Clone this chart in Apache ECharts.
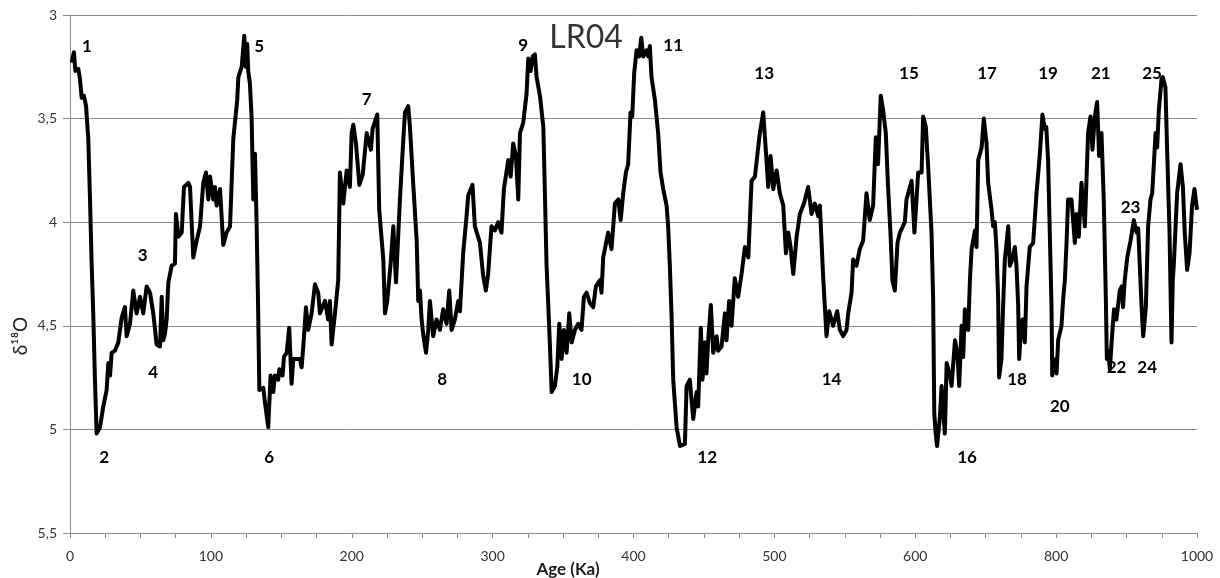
<!DOCTYPE html>
<html>
<head>
<meta charset="utf-8">
<script src="https://cdn.jsdelivr.net/npm/echarts@6/dist/echarts.min.js"></script>
<style>html,body{margin:0;padding:0;background:#fff}#main{width:1220px;height:578px}</style>
</head>
<body>
<div id="main"></div>
<script>
// LR04 benthic d18O stack (age in ka)
const ages = [1.2,2.8,3.8,5.9,7.1,8.3,9.9,11.4,13,14.2,15.4,16.5,17.7,18.9,21.3,23.6,26,27.2,28.4,29.6,31.9,34.3,36.7,39,40.2,42.6,44.9,47.3,49.7,52,54.4,56.8,59.1,61.5,63.9,65.1,66.2,67.4,68.6,69.8,72.2,74.5,75.2,76.9,79.3,80.9,84,85.2,87.5,89.9,92.3,94.6,96.5,98.2,99.4,101.7,102.9,104.1,106.5,108.8,111.2,113.6,115.9,118.7,119.5,121.9,123.7,124.9,125.8,126.5,127.7,128.9,130.1,131.3,132.5,133.5,134.4,137.2,138.4,140.7,142.4,144.3,145.5,147.8,148.6,150.9,151.9,153.8,155.6,157.3,158.5,160.9,163.2,164.4,165.6,167.5,169.1,171.5,173.9,176.2,177.4,181,183.3,184.5,185.7,188.1,190.4,191.6,194,196.4,198.7,199.9,201.1,203,205.4,207.8,210.6,213.6,214.8,218.1,219.5,222.4,223.6,225.2,227.6,229.5,231.4,234.2,236.6,237.8,240.1,241.3,243.6,246.1,247.2,248.4,249.6,250.7,252.7,254.3,255.5,257.8,260.2,262.6,264.9,267.3,269.2,270.9,273.2,275.6,276.8,279.1,281.5,282.7,285.7,287.4,291,293.3,295.2,296.8,299.2,301.6,303.9,306.3,308,311.1,312.8,314.6,316.5,318.2,319.4,321.7,324.1,325.3,327,328.4,330,331.2,333.6,336,337.2,338.3,339.5,340.7,341.9,344.2,345.9,347.3,349,350.6,352.5,354.4,356.1,358.4,360.8,363.1,364.8,366.7,369,371.4,373.3,376.2,377.3,378.5,379.7,382,384.4,386.8,389.2,390.9,392.7,394.6,396.2,397.9,399.1,400.5,402.2,404,405.5,406.9,409.3,410.5,411.6,412.8,415.2,417.5,419.2,421.1,423.5,424.6,425.8,427,428.2,430.6,433,436.5,437.7,440,442.4,444.8,445.9,447.8,449,450.7,451.8,453,454.9,456.6,459,460.1,462.5,464.9,466,467.9,469.6,471.9,474.3,476.7,479.1,481.5,483.8,486.2,488.5,489.7,492.1,494.4,495.6,497.3,499.2,501.6,503.9,506.3,508.2,509.9,511.5,513.4,515.8,518.1,521,524,526.4,528.7,531.1,532.3,534.6,537,538.9,541.7,544.6,546.5,548.8,551.2,552.4,554.8,555.9,558.3,560.6,563,565.4,567.7,570.1,572,573.6,575.5,577.2,579.1,580.7,582.4,583.8,585.5,587.4,589.1,592.6,593.8,597.4,599.4,604.2,609,611.2,615,618.3,623.1,625.4,627,629,631,635,637.4,642,644.6,649.3,651.6,656.4,659.7,662.4,665.8,668.1,670.5,675.2,677.6,680,684.7,687,689.4,694.2,697.4,701.2,703.5,708.3,710.6,713,715.4,717.7,719,722.4,724.7,727.2,732,734.3,737.6,741.4,743.7,746.1,747.5,749.5,752.3,755.6,758,762.6,767.4,772.2,776.9,780.6,784,786,788.6,791,793.4,794.5,796.7,800.6,802.9,807.6,810,812.4,814.8,817,821.8,826.6,829,832.2,836,840.8,845.4,848.8,851.6,855,858.2,861,864.4,867.6,870.6,872,874,876.2,880,882.2,885.6,890.4,893.2,895,897.4,901,905.6,910.4,914.2,916.5,918.8,921.2,923.6,927.4,930.6,934,936.4,941.2,943.4,945.8,949.6,951.4,955.2,957.6,961,963.8,965.6,967,971.8,976.6,980,982.6,986,989.4,993,996.4,998.5,1000];
const d18O = [3.23,3.18,3.27,3.26,3.31,3.40,3.39,3.44,3.60,3.89,4.21,4.44,4.76,5.02,4.99,4.89,4.81,4.68,4.74,4.63,4.62,4.58,4.46,4.41,4.55,4.49,4.33,4.44,4.36,4.44,4.31,4.34,4.44,4.59,4.60,4.36,4.57,4.54,4.47,4.29,4.21,4.20,3.96,4.07,4.05,3.83,3.81,3.83,4.17,4.09,4.02,3.81,3.76,3.89,3.78,3.89,3.83,3.92,3.84,4.11,4.05,4.02,3.60,3.41,3.30,3.25,3.10,3.25,3.14,3.27,3.33,3.49,3.89,3.67,4.02,4.40,4.81,4.80,4.87,4.99,4.74,4.82,4.74,4.76,4.71,4.74,4.65,4.63,4.51,4.78,4.66,4.66,4.66,4.70,4.60,4.41,4.52,4.44,4.30,4.34,4.44,4.38,4.47,4.38,4.59,4.44,4.28,3.76,3.91,3.75,3.83,3.57,3.53,3.62,3.82,3.77,3.57,3.65,3.55,3.48,3.94,4.18,4.44,4.38,4.20,4.02,4.29,3.89,3.60,3.47,3.44,3.54,3.81,4.09,4.38,4.33,4.47,4.54,4.63,4.52,4.38,4.55,4.47,4.52,4.42,4.49,4.33,4.52,4.47,4.38,4.43,4.15,3.97,3.87,3.82,4.02,4.10,4.26,4.33,4.25,4.02,4.04,4.00,4.05,3.84,3.70,3.78,3.62,3.68,3.89,3.57,3.52,3.38,3.21,3.27,3.20,3.19,3.30,3.39,3.54,3.89,4.21,4.40,4.60,4.82,4.79,4.70,4.49,4.66,4.52,4.63,4.44,4.58,4.52,4.49,4.52,4.36,4.34,4.39,4.41,4.31,4.28,4.34,4.17,4.17,4.05,4.13,3.91,3.89,3.99,3.86,3.76,3.72,3.47,3.49,3.28,3.17,3.20,3.11,3.20,3.17,3.20,3.15,3.30,3.41,3.57,3.76,3.84,3.92,4.02,4.21,4.45,4.76,4.99,5.08,5.07,4.79,4.76,4.95,4.82,4.89,4.51,4.76,4.58,4.73,4.57,4.40,4.63,4.55,4.62,4.60,4.44,4.57,4.38,4.50,4.27,4.36,4.25,4.12,4.17,3.80,3.78,3.64,3.57,3.47,3.70,3.83,3.68,3.84,3.75,3.86,3.92,4.15,4.05,4.12,4.25,4.07,3.96,3.91,3.83,3.96,3.91,3.97,3.92,4.26,4.55,4.43,4.50,4.43,4.52,4.55,4.52,4.44,4.34,4.18,4.21,4.13,4.09,3.86,3.99,3.92,3.59,3.72,3.39,3.46,3.57,3.83,4.05,4.28,4.33,4.10,4.05,4.00,3.89,3.80,4.05,3.76,3.76,3.49,3.54,3.73,4.05,4.37,4.92,5.02,5.08,4.94,4.79,5.02,4.68,4.74,4.79,4.57,4.63,4.79,4.50,4.65,4.42,4.52,4.28,4.13,4.04,4.12,3.70,3.64,3.50,3.62,3.81,3.94,4.02,4.00,4.13,4.37,4.75,4.66,4.41,4.18,4.02,4.21,4.18,4.12,4.21,4.40,4.66,4.55,4.47,4.58,4.31,4.12,4.10,3.86,3.67,3.48,3.55,3.54,3.70,4.05,4.40,4.74,4.66,4.73,4.57,4.50,4.37,4.28,4.10,3.89,3.89,4.10,3.96,4.07,3.81,4.02,3.57,3.49,3.65,3.49,3.42,3.68,3.57,3.89,4.37,4.66,4.62,4.71,4.52,4.42,4.47,4.33,4.31,4.41,4.28,4.17,4.09,3.99,4.05,4.03,4.21,4.40,4.55,4.41,4.02,3.89,3.86,3.57,3.64,3.46,3.31,3.30,3.35,3.65,4.05,4.58,4.28,4.21,3.86,3.72,3.83,4.05,4.23,4.15,3.92,3.84,3.84,3.94];

// marine isotope stage numbers and where they are written
const misNames = ['1','2','3','4','5','6','7','8','9','10','11','12','13','14','15','16','17','18','19','20','21','22','23','24','25'];
const misAges = [12,24.3,51.6,59.1,134.3,141.4,210.6,264.2,321.7,363.2,428.2,452.3,492.8,540.6,595.5,673.6,702,744.6,788.6,805.2,863.4,885.8,905.6,929.2,936.2];
const misValues = [3.153,5.134,4.163,4.726,3.153,5.134,3.407,4.757,3.148,4.757,3.148,5.134,3.281,4.757,3.281,5.134,3.281,4.757,3.281,4.89,3.281,4.701,3.928,4.701,3.281];

// the source sheet steps 1 ka up to 600 ka and 2 ka beyond, on an even axis
function agePos(a) { return a <= 600 ? a : 600 + (a - 600) / 2; }
function posAge(p) { return p <= 600 ? p : 600 + (p - 600) * 2; }

const FONT = 'Lato, "Liberation Sans", sans-serif';
const GRID = '#8a8a8a';

const chart = echarts.init(document.getElementById('main'));
chart.setOption({
  animation: false,
  backgroundColor: '#fff',
  grid: { left: 70, right: 23, top: 15, bottom: 45 },
  xAxis: {
    type: 'value', min: 0, max: 800, interval: 100,
    axisLine: { onZero: false, lineStyle: { color: GRID, width: 1 } },
    axisTick: { length: 5, lineStyle: { color: GRID } },
    minorTick: { show: true, splitNumber: 4, length: 5, lineStyle: { color: GRID } },
    splitLine: { show: false },
    axisLabel: { margin: 16, color: '#333', fontSize: 14, fontFamily: FONT, formatter: v => String(posAge(v)) }
  },
  yAxis: {
    type: 'value', inverse: true, min: 3, max: 5.5, interval: 0.5,
    axisLine: { show: true, lineStyle: { color: GRID, width: 1 } },
    axisTick: { show: true, length: 7, lineStyle: { color: GRID } },
    splitLine: { lineStyle: { color: GRID, width: 1 } },
    axisLabel: { margin: 13, color: '#333', fontSize: 14, fontFamily: FONT, formatter: v => String(v).replace('.', ',') }
  },
  graphic: [
    { type: 'text', x: 586, y: 38, style: { text: 'LR04', fill: '#333', font: '32px ' + FONT, textAlign: 'center', textVerticalAlign: 'middle' } },
    { type: 'text', x: 568, y: 570, style: { text: 'Age (Ka)', fill: '#1a1a1a', font: 'bold 17px ' + FONT, textAlign: 'center', textVerticalAlign: 'middle' } },
    { type: 'text', x: 21, y: 336, rotation: Math.PI / 2, style: { text: 'δ¹⁸O', fill: '#222', font: '19px ' + FONT, textAlign: 'center', textVerticalAlign: 'middle' } }
  ],
  series: [
    {
      type: 'line',
      data: ages.map((a, i) => [agePos(a), d18O[i]]),
      showSymbol: false,
      lineStyle: { color: '#000', width: 4, join: 'round' },
      silent: true,
      z: 2
    },
    {
      type: 'scatter',
      symbolSize: 0,
      silent: true,
      z: 3,
      itemStyle: { opacity: 1 },
      data: misNames.map((n, i) => ({ name: n, value: [agePos(misAges[i]), misValues[i]] })),
      label: { show: true, position: 'inside', formatter: p => p.name, color: '#000', opacity: 1, fontWeight: 'bold', fontSize: 17, fontFamily: FONT }
    }
  ]
});
</script>
</body>
</html>
